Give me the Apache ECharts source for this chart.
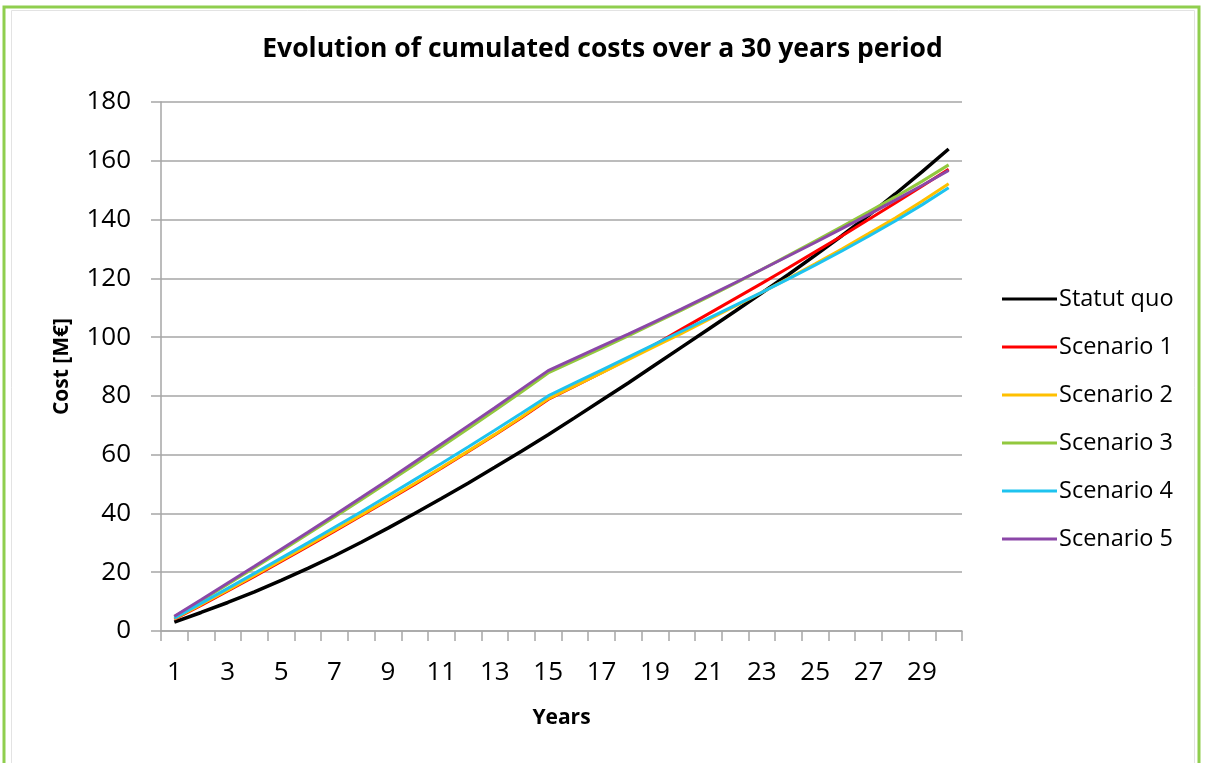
<!DOCTYPE html>
<html>
<head>
<meta charset="utf-8">
<title>Evolution of cumulated costs</title>
<script src="https://cdn.jsdelivr.net/npm/echarts@6/dist/echarts.min.js"></script>
<style>
  html, body { margin: 0; padding: 0; background: #ffffff; }
  #chart { width: 1205px; height: 763px; }
</style>
</head>
<body>
<div id="chart"></div>
<script>
// Years of the study period
const years = ['1','2','3','4','5','6','7','8','9','10','11','12','13','14','15',
               '16','17','18','19','20','21','22','23','24','25','26','27','28','29','30'];

// Cumulated costs per year, in M€
const statutQuo = [3.0, 6.3, 9.7, 13.3, 17.2, 21.3, 25.6, 30.2, 35.0, 40.0, 45.1, 50.3, 55.7, 61.2, 66.8,
                   72.6, 78.5, 84.4, 90.5, 96.6, 102.7, 108.8, 115.0, 121.3, 127.8, 134.5, 141.4, 148.7, 156.2, 164.0];
const scenario1 = [4.0, 8.7, 13.6, 18.6, 23.7, 28.8, 34.0, 39.2, 44.5, 49.9, 55.4, 61.0, 66.7, 72.6, 78.8,
                   83.3, 87.9, 92.6, 97.5, 102.7, 107.9, 113.1, 118.3, 123.6, 129.0, 134.4, 140.0, 145.6, 151.3, 157.1];
const scenario2 = [4.2, 9.0, 13.9, 18.9, 24.0, 29.1, 34.3, 39.5, 44.8, 50.2, 55.6, 61.2, 66.9, 72.8, 79.0,
                   83.4, 87.8, 92.3, 96.8, 101.3, 105.9, 110.5, 115.2, 120.0, 124.9, 130.0, 135.2, 140.5, 146.2, 152.2];
const scenario3 = [4.8, 10.3, 15.9, 21.5, 27.2, 33.0, 38.8, 44.7, 50.6, 56.6, 62.7, 68.8, 75.0, 81.3, 87.8,
                   92.0, 96.2, 100.4, 104.8, 109.2, 113.7, 118.3, 123.0, 127.8, 132.7, 137.6, 142.6, 147.7, 153.0, 158.6];
const scenario4 = [4.4, 9.4, 14.5, 19.6, 24.8, 30.0, 35.3, 40.6, 46.0, 51.5, 57.0, 62.6, 68.3, 74.1, 80.0,
                   84.4, 88.8, 93.2, 97.6, 102.0, 106.4, 110.8, 115.2, 119.8, 124.5, 129.3, 134.3, 139.5, 145.0, 150.8];
const scenario5 = [5.0, 10.6, 16.3, 22.0, 27.8, 33.6, 39.5, 45.4, 51.4, 57.5, 63.6, 69.8, 76.0, 82.3, 88.6,
                   92.8, 96.9, 101.0, 105.3, 109.6, 114.0, 118.5, 123.0, 127.6, 132.2, 136.9, 141.7, 146.6, 151.6, 156.7];

const seriesNames = ['Statut quo', 'Scenario 1', 'Scenario 2', 'Scenario 3', 'Scenario 4', 'Scenario 5'];
const seriesValues = [statutQuo, scenario1, scenario2, scenario3, scenario4, scenario5];
const seriesColors = ['#000000', '#ff0000', '#ffc000', '#92c83e', '#1ec3ef', '#8b47a8'];

const FONT = '"Open Sans", "Liberation Sans", sans-serif';
const AXIS_GREY = '#a6a6a6';

const chart = echarts.init(document.getElementById('chart'), null, { renderer: 'canvas' });

chart.setOption({
  animation: false,
  backgroundColor: '#ffffff',
  textStyle: { fontFamily: FONT },
  title: {
    text: 'Evolution of cumulated costs over a 30 years period',
    left: 'center',
    top: 31,
    textStyle: { fontFamily: FONT, fontSize: 26.5, fontWeight: 'bold', color: '#000000' }
  },
  graphic: [
    {
      type: 'rect',
      shape: { x: 11.5, y: 10.5, width: 1183, height: 800 },
      style: { fill: null, stroke: '#e3e3e3', lineWidth: 1 },
      silent: true
    },
    {
      type: 'rect',
      shape: { x: 4, y: 7, width: 1195, height: 800 },
      style: { fill: null, stroke: '#8fce4e', lineWidth: 3 },
      silent: true
    }
  ],
  legend: {
    orient: 'vertical',
    left: 997,
    top: 280,
    icon: 'rect',
    itemWidth: 55,
    itemHeight: 3,
    itemGap: 20,
    data: seriesNames,
    textStyle: { fontFamily: FONT, fontSize: 23.5, color: '#000000', lineHeight: 28, padding: [0, 0, 0, -3] }
  },
  grid: { left: 161, right: 243, top: 102, bottom: 132, containLabel: false },
  xAxis: {
    type: 'category',
    data: years,
    boundaryGap: true,
    name: 'Years',
    nameLocation: 'middle',
    nameGap: 77,
    nameTextStyle: { fontFamily: FONT, fontSize: 21, fontWeight: 'bold', color: '#000000' },
    axisLine: { lineStyle: { color: AXIS_GREY, width: 1.5 } },
    axisTick: { show: true, interval: 0, length: 10, lineStyle: { color: AXIS_GREY, width: 1.5 } },
    axisLabel: { interval: 1, margin: 29, fontFamily: FONT, fontSize: 26, color: '#000000' },
    splitLine: { show: false }
  },
  yAxis: {
    type: 'value',
    min: 0,
    max: 180,
    interval: 20,
    name: 'Cost [M€]',
    nameLocation: 'middle',
    nameGap: 88,
    nameRotate: 90,
    nameTextStyle: { fontFamily: FONT, fontSize: 21, fontWeight: 'bold', color: '#000000' },
    axisLine: { show: true, lineStyle: { color: AXIS_GREY, width: 1.5 } },
    axisTick: { show: true, length: 10, lineStyle: { color: AXIS_GREY, width: 1.5 } },
    axisLabel: { margin: 30, fontFamily: FONT, fontSize: 26, color: '#000000' },
    splitLine: { show: true, lineStyle: { color: AXIS_GREY, width: 1.5 } }
  },
  series: seriesNames.map((name, i) => ({
    name: name,
    type: 'line',
    data: seriesValues[i],
    symbol: 'none',
    showSymbol: false,
    smooth: false,
    color: seriesColors[i],
    lineStyle: { color: seriesColors[i], width: i === 0 ? 3.5 : 3 },
    z: 2 + i
  }))
});
</script>
</body>
</html>
